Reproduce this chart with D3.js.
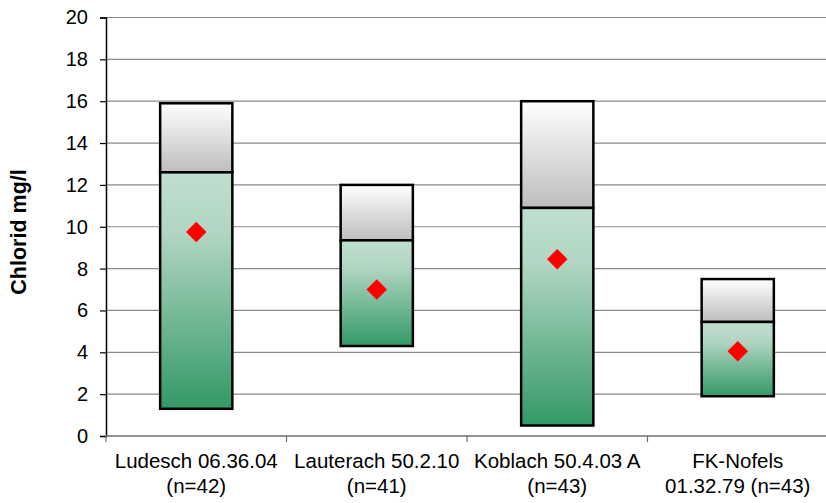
<!DOCTYPE html>
<html>
<head>
<meta charset="utf-8">
<script src="https://cdn.jsdelivr.net/npm/d3@7"></script>
<style>
  html, body { margin: 0; padding: 0; background: #fff; }
  svg { display: block; font-family: Arial, "Liberation Sans", sans-serif; }
</style>
</head>
<body>
<svg id="chart" width="826" height="503"></svg>
<script>
// ---- data ----
const categories = ["Ludesch 06.36.04", "Lauterach 50.2.10", "Koblach 50.4.03 A", "FK-Nofels"];
const categoryLine2 = ["(n=42)", "(n=41)", "(n=43)", "01.32.79 (n=43)"];
const minValues    = [1.3, 4.3, 0.5, 1.9];
const middleValues = [12.6, 9.35, 10.9, 5.45];
const maxValues    = [15.9, 12.0, 16.0, 7.5];
const meanValues   = [9.75, 7.0, 8.45, 4.05];
const yTicks = [0, 2, 4, 6, 8, 10, 12, 14, 16, 18, 20];
const yTitle = "Chlorid mg/l";

// ---- layout ----
const svg = d3.select("#chart");
const pLeft = 106, pRight = 828, pTop = 17.5, pBottom = 436;

const x = d3.scaleBand().domain(categories).range([pLeft, pRight]).paddingInner(0.6).paddingOuter(0.3);
const y = d3.scaleLinear().domain([0, 20]).range([pBottom, pTop]);

const defs = svg.append("defs");
const gUp = defs.append("linearGradient").attr("id", "gUp").attr("x1", 0).attr("y1", 0).attr("x2", 0).attr("y2", 1);
gUp.append("stop").attr("offset", "0%").attr("stop-color", "#ffffff");
gUp.append("stop").attr("offset", "100%").attr("stop-color", "#bdbdbd");
const gLow = defs.append("linearGradient").attr("id", "gLow").attr("x1", 0).attr("y1", 0).attr("x2", 0).attr("y2", 1);
gLow.append("stop").attr("offset", "0%").attr("stop-color", "#bfdfce");
gLow.append("stop").attr("offset", "25%").attr("stop-color", "#b2d6c3");
gLow.append("stop").attr("offset", "100%").attr("stop-color", "#339966");

// gridlines
svg.append("g").selectAll("line").data(yTicks.filter(d => d > 0)).join("line")
  .attr("x1", pLeft).attr("x2", 826)
  .attr("y1", d => y(d)).attr("y2", d => y(d))
  .attr("stroke", "#8a8a8a").attr("stroke-width", 1.2);

// y axis
const yAxis = d3.axisLeft(y).tickValues(yTicks).tickSize(6).tickPadding(12);
const gy = svg.append("g").attr("transform", `translate(${pLeft},0)`).call(yAxis);
gy.select(".domain").attr("stroke", "#000").attr("stroke-width", 1.5);
gy.selectAll(".tick line").attr("stroke", "#000").attr("stroke-width", 1.2);
gy.selectAll(".tick text").attr("font-size", 20).attr("fill", "#000")
  .attr("font-family", "Arial, 'Liberation Sans', sans-serif");

// x axis
const xb = d3.scaleLinear().domain([0, categories.length]).range([pLeft, pRight]);
svg.append("line").attr("x1", pLeft).attr("x2", 826).attr("y1", pBottom).attr("y2", pBottom)
  .attr("stroke", "#6e6e6e").attr("stroke-width", 1.5);
svg.append("g").selectAll("line").data(d3.range(0, categories.length + 1)).join("line")
  .attr("x1", d => xb(d)).attr("x2", d => xb(d))
  .attr("y1", pBottom).attr("y2", pBottom + 6)
  .attr("stroke", "#6e6e6e").attr("stroke-width", 1.2);

const labels = svg.append("g").selectAll("text").data(categories).join("text")
  .attr("x", d => x(d) + x.bandwidth() / 2)
  .attr("y", 468)
  .attr("text-anchor", "middle")
  .attr("font-size", 20.5).attr("fill", "#000");
labels.append("tspan").attr("x", d => x(d) + x.bandwidth() / 2).attr("dy", 0).text(d => d);
labels.append("tspan").attr("x", d => x(d) + x.bandwidth() / 2).attr("dy", 25).text((d, i) => categoryLine2[i]);

// boxes
const bars = svg.append("g");
categories.forEach((c, i) => {
  bars.append("rect")
    .attr("x", x(c)).attr("width", x.bandwidth())
    .attr("y", y(maxValues[i])).attr("height", y(middleValues[i]) - y(maxValues[i]))
    .attr("fill", "url(#gUp)").attr("stroke", "#000").attr("stroke-width", 2.5);
  bars.append("rect")
    .attr("x", x(c)).attr("width", x.bandwidth())
    .attr("y", y(middleValues[i])).attr("height", y(minValues[i]) - y(middleValues[i]))
    .attr("fill", "url(#gLow)").attr("stroke", "#000").attr("stroke-width", 2.5);
});

// mean markers
svg.append("g").selectAll("path").data(meanValues).join("path")
  .attr("d", d3.symbol().type(d3.symbolSquare).size(210))
  .attr("transform", (d, i) => `translate(${x(categories[i]) + x.bandwidth() / 2},${y(d)}) rotate(45)`)
  .attr("fill", "#ff0000");

// y title
svg.append("text")
  .attr("transform", `translate(26,232) rotate(-90)`)
  .attr("text-anchor", "middle")
  .attr("font-size", 21.5).attr("font-weight", "bold").attr("fill", "#000")
  .text(yTitle);
</script>
</body>
</html>
